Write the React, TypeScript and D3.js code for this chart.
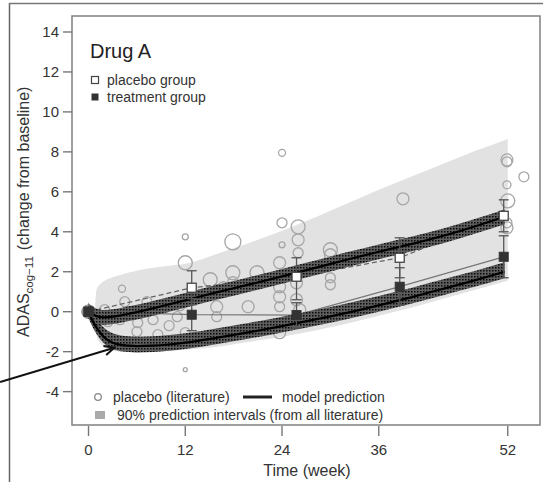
import React from "react";
import * as d3 from "d3";

const W = 543;
const H = 482;

const xTicks = [0, 12, 24, 36, 52];
const yTicks = [-4, -2, 0, 2, 4, 6, 8, 10, 12, 14];

// 90% prediction interval (from all literature)
const piWeeks = [0.85, 1, 1.5, 2, 3, 4, 6, 8, 10, 12, 16, 20, 24, 28, 32, 36, 40, 44, 48, 52];
const piUpper = [0.6, 1.1, 1.4, 1.55, 1.72, 1.85, 2.05, 2.2, 2.3, 2.4, 2.9, 3.45, 4.05, 4.7, 5.4, 6.1, 6.75, 7.4, 8.05, 8.65];
const piLower = [-0.6, -1.2, -1.6, -1.8, -1.95, -2.0, -2.0, -1.98, -1.95, -1.9, -1.75, -1.5, -1.25, -0.95, -0.6, -0.2, 0.2, 0.65, 1.1, 1.55];

// model predictions
const modelWeeks = [0, 0.5, 1, 1.5, 2, 3, 4, 5, 6, 8, 10, 12, 16, 20, 24, 28, 32, 36, 40, 44, 48, 51.6];
const placeboModel = [0, -0.12, -0.22, -0.27, -0.28, -0.25, -0.18, -0.1, -0.02, 0.17, 0.37, 0.57, 0.98, 1.37, 1.77, 2.18, 2.6, 3.0, 3.38, 3.8, 4.28, 4.75];
const treatmentModel = [0, -0.45, -0.8, -1.08, -1.3, -1.55, -1.66, -1.7, -1.72, -1.7, -1.64, -1.55, -1.3, -1.02, -0.72, -0.4, -0.06, 0.32, 0.72, 1.15, 1.58, 2.0];
const placeboBandLo = 0.37;
const placeboBandHi = 0.37;
const treatmentBandLo = 0.32;
const treatmentBandHi = 0.47;

// observed group means with error bars
const obsWeeks = [0, 12.8, 25.8, 38.6, 51.5];
const placeboObs = [0, 1.2, 1.75, 2.7, 4.8];
const placeboLo = [0, 0.35, 0.6, 1.7, 4.0];
const placeboHi = [0, 2.05, 2.7, 3.7, 5.6];
const treatObs = [0, -0.15, -0.17, 1.25, 2.75];
const treatLo = [0, -0.95, -0.8, 0.33, 1.7];
const treatHi = [0, 0.65, 0.45, 2.2, 3.8];

// placebo arms from literature (week, change, sample size)
const litWeek = [12.0, 12.0, 4.15, 12.0, 3.9, 6.1, 8.0, 6.0, 4.5, 7.25, 11.3, 11.0, 17.9, 24.0, 24.0, 26.0, 26.0, 26.0, 23.7, 23.7, 20.9, 17.9, 17.9, 15.1, 16.7, 19.8, 15.9, 15.9, 23.7, 23.7, 23.7, 23.7, 12.0, 26.2, 25.8, 25.8, 24.0, 30.0, 30.0, 30.0, 30.0, 39.0, 51.9, 51.9, 54.0, 51.9, 52.0, 51.9, 51.9, 2.4, 9.5, 8.6, 5.1, 12.0, 10.0, 2.0];
const litChange = [3.75, 2.45, 1.15, -2.9, -0.4, -0.55, -0.4, -1.0, 0.5, 0.5, 0.35, -0.25, 3.5, 4.45, 3.35, 4.25, 3.6, 2.95, 2.45, 1.75, 1.95, 1.95, 1.5, 1.6, 1.25, 0.25, 0.25, -0.25, 1.25, 0.75, 0.25, -1.05, 0.6, 0.1, 1.45, 0.6, 7.95, 3.1, 2.85, 1.35, 1.7, 5.65, 7.6, 7.5, 6.75, 6.35, 5.55, 4.45, 4.2, -0.5, 0.2, -1.15, 0.0, -1.05, -0.7, 0.1];
const litN = [56, 306, 77, 25, 156, 156, 156, 156, 156, 156, 225, 156, 400, 156, 56, 306, 225, 156, 225, 225, 306, 306, 156, 306, 156, 225, 225, 156, 225, 225, 156, 225, 225, 225, 225, 225, 77, 306, 225, 156, 156, 225, 225, 156, 156, 100, 306, 156, 225, 156, 156, 156, 156, 156, 156, 156];
// pooled baseline arms (week 0)
const baselineWeek = 0;
const baselineChange = 0;
const baselineN = 290;

// arrow annotation (data coords)
const arrowFrom = [-10.97, -3.52];
const arrowTo = [3.2, -1.8];

const FONT = "'Liberation Sans', Arial, sans-serif";

export default function App() {
  const x = d3.scaleLinear().domain([-2.05, 56.0]).range([72, 540]);
  const y = d3.scaleLinear().domain([-5.67, 14.8]).range([425, 16]);
  const r = d3.scaleSqrt().domain([0, 400]).range([0, 8]);

  const piArea = d3
    .area<number>()
    .x((_, i) => x(piWeeks[i]))
    .y0((_, i) => y(piLower[i]))
    .y1((_, i) => y(piUpper[i]))
    .curve(d3.curveMonotoneX)(piWeeks);

  const bandArea = (vals: number[], lo: number, hi: number) =>
    d3
      .area<number>()
      .x((_, i) => x(modelWeeks[i]))
      .y0((_, i) => y(vals[i] - lo))
      .y1((_, i) => y(vals[i] + hi))
      .curve(d3.curveMonotoneX)(modelWeeks) as string;

  const modelLine = (vals: number[]) =>
    d3
      .line<number>()
      .x((_, i) => x(modelWeeks[i]))
      .y((_, i) => y(vals[i]))
      .curve(d3.curveMonotoneX)(modelWeeks) as string;

  const obsLine = (vals: number[]) =>
    d3
      .line<number>()
      .x((_, i) => x(obsWeeks[i]))
      .y((_, i) => y(vals[i]))(obsWeeks) as string;

  const ax1 = x(arrowFrom[0]);
  const ay1 = y(arrowFrom[1]);
  const ax2 = x(arrowTo[0]);
  const ay2 = y(arrowTo[1]);
  const ang = Math.atan2(ay2 - ay1, ax2 - ax1);
  const hl = 11;
  const ha = 0.45;
  const h1 = [ax2 - hl * Math.cos(ang - ha), ay2 - hl * Math.sin(ang - ha)];
  const h2 = [ax2 - hl * Math.cos(ang + ha), ay2 - hl * Math.sin(ang + ha)];

  const sq = 9;

  return (
    <svg width={W} height={H} style={{ position: "absolute", left: 0, top: 0 }} fontFamily={FONT}>
      <defs>
        <pattern id="dotfill" width="3" height="3" patternUnits="userSpaceOnUse">
          <rect width="3" height="3" fill="#5e5e5e" />
          <rect x="0" y="0" width="1.5" height="1.5" fill="#0a0a0a" />
        </pattern>
        <clipPath id="plotclip">
          <rect x={72} y={16} width={468} height={409} />
        </clipPath>
      </defs>
      <rect x={0} y={0} width={W} height={H} fill="#fff" />
      {/* outer frame */}
      <line x1={9.5} y1={3} x2={9.5} y2={H} stroke="#666" strokeWidth={1.5} />
      <line x1={9} y1={3.5} x2={W} y2={3.5} stroke="#777" strokeWidth={1.5} />

      <g clipPath="url(#plotclip)">
        <path d={piArea as string} fill="#e2e2e2" />
        {litWeek.map((w, i) => (
          <circle key={i} cx={x(w)} cy={y(litChange[i])} r={r(litN[i])} fill="none" stroke="#a6a6a6" strokeWidth={1.3} />
        ))}
        <circle cx={x(baselineWeek)} cy={y(baselineChange)} r={r(baselineN)} fill="#9a9a9a" stroke="#8a8a8a" strokeWidth={1} />
        <path d={obsLine(placeboObs)} fill="none" stroke="#666" strokeWidth={1.3} strokeDasharray="5,3" />
        <path d={obsLine(treatObs)} fill="none" stroke="#777" strokeWidth={1.3} />
        <path d={bandArea(treatmentModel, treatmentBandLo, treatmentBandHi)} fill="url(#dotfill)" />
        <path d={bandArea(placeboModel, placeboBandLo, placeboBandHi)} fill="url(#dotfill)" />
        <path d={modelLine(treatmentModel)} fill="none" stroke="#000" strokeWidth={2.2} />
        <path d={modelLine(placeboModel)} fill="none" stroke="#000" strokeWidth={2.2} />
        {obsWeeks.map((w, i) =>
          i === 0 ? null : (
            <g key={"eb" + i} stroke="#555" strokeWidth={1.3}>
              <line x1={x(w)} x2={x(w)} y1={y(placeboLo[i])} y2={y(placeboHi[i])} />
              <line x1={x(w) - 5} x2={x(w) + 5} y1={y(placeboLo[i])} y2={y(placeboLo[i])} />
              <line x1={x(w) - 5} x2={x(w) + 5} y1={y(placeboHi[i])} y2={y(placeboHi[i])} />
              <line x1={x(w)} x2={x(w)} y1={y(treatLo[i])} y2={y(treatHi[i])} />
              <line x1={x(w) - 5} x2={x(w) + 5} y1={y(treatLo[i])} y2={y(treatLo[i])} />
              <line x1={x(w) - 5} x2={x(w) + 5} y1={y(treatHi[i])} y2={y(treatHi[i])} />
            </g>
          )
        )}
        {obsWeeks.map((w, i) => (
          <rect key={"p" + i} x={x(w) - sq / 2} y={y(placeboObs[i]) - sq / 2} width={sq} height={sq} fill="#fff" stroke="#444" strokeWidth={1.3} />
        ))}
        {obsWeeks.map((w, i) => (
          <rect key={"t" + i} x={x(w) - sq / 2} y={y(treatObs[i]) - sq / 2} width={sq} height={sq} fill="#333" stroke="#333" strokeWidth={1} />
        ))}
      </g>

      {/* plot box */}
      <rect x={72} y={16} width={468} height={409} fill="none" stroke="#888" strokeWidth={1.6} />

      {/* y axis */}
      {yTicks.map((t) => (
        <g key={"y" + t}>
          <line x1={63} x2={72} y1={y(t)} y2={y(t)} stroke="#777" strokeWidth={1.4} />
          <text x={59} y={y(t)} dy="0.35em" textAnchor="end" fontSize={15} fill="#333">
            {t}
          </text>
        </g>
      ))}
      {/* x axis */}
      {xTicks.map((t) => (
        <g key={"x" + t}>
          <line x1={x(t)} x2={x(t)} y1={426} y2={436} stroke="#777" strokeWidth={1.4} />
          <text x={x(t)} y={455} textAnchor="middle" fontSize={15} fill="#333">
            {t}
          </text>
        </g>
      ))}
      <text x={307} y={476} textAnchor="middle" fontSize={16} fill="#333">
        Time (week)
      </text>
      <text transform="translate(29,337) rotate(-90)" fontSize={16} fill="#333" xmlSpace="preserve">
        ADAS
        <tspan fontSize={11.5} dy={4}>cog−11</tspan>
        <tspan dy={-4} dx={6}>(change from baseline)</tspan>
      </text>

      {/* top legend */}
      <text x={90} y={58} fontSize={20} fill="#222">
        Drug A
      </text>
      <rect x={95 - 3.5} y={80 - 3.5} width={7} height={7} fill="#fff" stroke="#444" strokeWidth={1.2} />
      <text x={107} y={85} fontSize={14} fill="#333">
        placebo group
      </text>
      <rect x={95 - 3.5} y={97 - 3.5} width={7} height={7} fill="#333" />
      <text x={107} y={102} fontSize={14} fill="#333">
        treatment group
      </text>

      {/* bottom legend */}
      <circle cx={98} cy={397} r={3.3} fill="none" stroke="#888" strokeWidth={1.3} />
      <text x={113} y={402} fontSize={14} fill="#333">
        placebo (literature)
      </text>
      <line x1={243} x2={272} y1={397} y2={397} stroke="#222" strokeWidth={3} />
      <text x={282} y={402} fontSize={14} fill="#333">
        model prediction
      </text>
      <rect x={95} y={411} width={10} height={8} fill="#aaa" />
      <text x={117} y={420} fontSize={14} fill="#333">
        90% prediction intervals (from all literature)
      </text>

      {/* arrow */}
      <line x1={ax1} y1={ay1} x2={ax2} y2={ay2} stroke="#111" strokeWidth={2} />
      <polyline points={`${h1[0]},${h1[1]} ${ax2},${ay2} ${h2[0]},${h2[1]}`} fill="none" stroke="#111" strokeWidth={2} />
    </svg>
  );
}
